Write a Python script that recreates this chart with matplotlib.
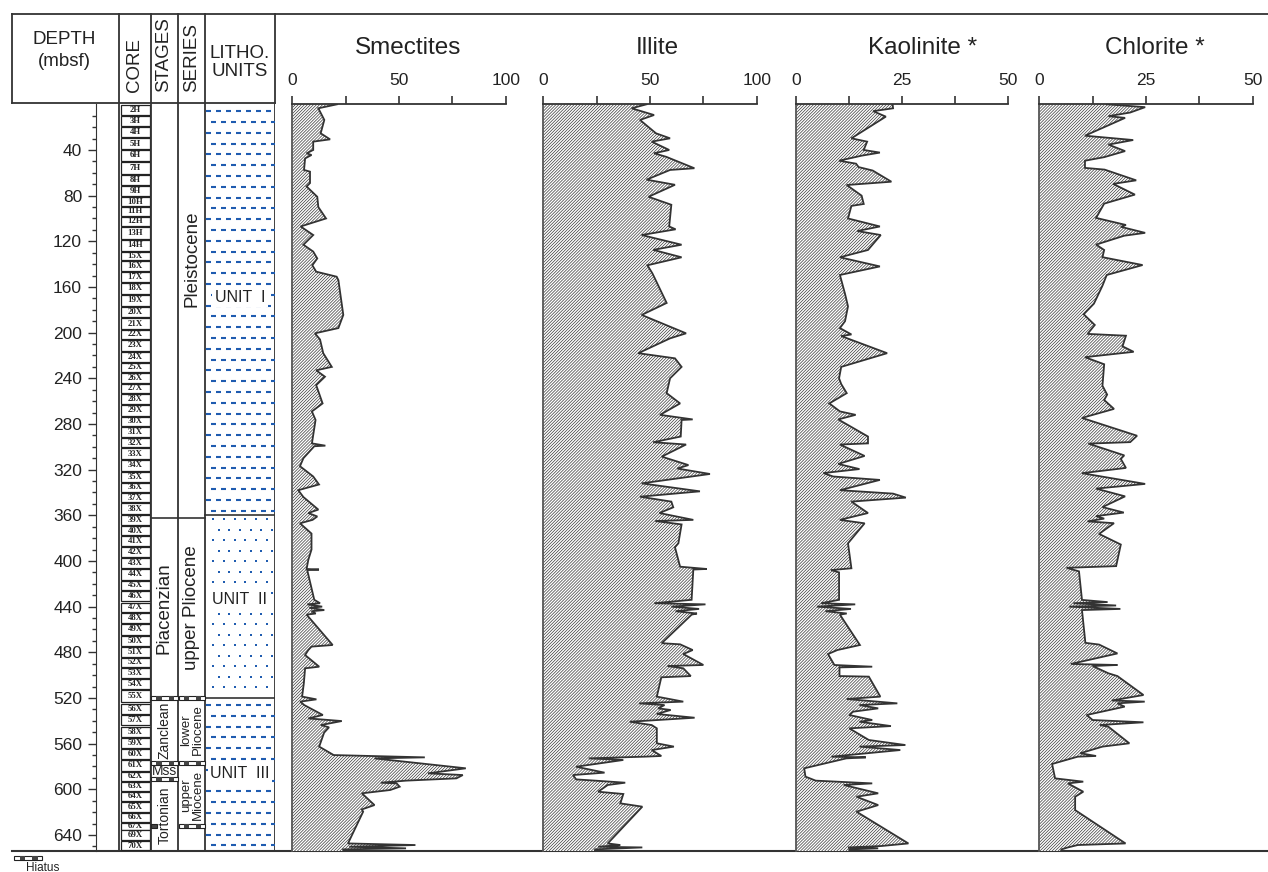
import numpy as np
import matplotlib
matplotlib.use('Agg')
import matplotlib.pyplot as plt
from matplotlib.patches import Rectangle
from matplotlib.ticker import FormatStrFormatter

# ---------------- data ----------------
smec_d = [0, 3.5, 13.7, 25.4, 30.7, 32.7, 40, 42.9, 44.4, 47.4, 57.5, 59, 69, 72, 81, 90, 100, 107, 114.5, 123,
          129, 135, 141, 146.6, 151, 154, 184.5, 196, 200.6, 206, 218, 230, 233, 238.6, 246, 262, 269, 276.5, 297, 299,
          299.5, 310, 317, 326, 333, 338, 344, 355, 358, 361, 364, 367, 376, 390, 399, 407, 407.5, 408, 434, 437,
          438, 440, 441, 443, 444, 446, 447, 473.6, 475, 478, 482.4, 492.6, 494, 507.2, 518.8, 521.2, 523.2, 526.2,
          534.9, 537.9, 540.2, 543.7, 545.7, 550.4, 562.6, 570, 572, 572.9, 581.6, 586, 587.5, 590.4, 592.4, 594.2,
          594.8, 597.7, 600.6, 603.5, 613.8, 617.6, 619.6, 647.4, 648.8, 650.3, 651.7, 652.6, 655]
smec_v = [21, 12.2, 15, 13.3, 17.7, 9.8, 9.8, 6.7, 9, 6, 5.5, 8.3, 8.3, 6.7, 11.7, 12.2, 15.8, 3.9, 9.8, 5.2,
          9.8, 11.7, 9.4, 11.2, 20.8, 21.6, 23.9, 21.6, 10.6, 13, 14.5, 18.5, 11.2, 15.3, 11.2, 14.2, 9.2, 10.9, 9.2, 15.5,
          10.3, 5.2, 3.6, 9.8, 12.5, 2.8, 5.2, 12.2, 7.5, 11.7, 9.5, 3.6, 9, 9, 7.5, 6.7, 12.5, 7, 10.3, 13,
          7, 14, 8, 15, 9, 11, 6.7, 18.9, 9, 7.5, 6, 12.6, 6, 5.4, 4.6, 11.3, 3.7, 5.6,
          14.3, 7.5, 23.2, 13.4, 17.2, 14.9, 12.6, 19.4, 62.1, 38.5, 81.3, 63.6, 79.9, 76.9, 53.3, 41.5,
          48.9, 50.3, 45.9, 32.6, 38.5, 32.6, 33.2, 26.1, 57.7, 26.7, 53.3, 23.8, 24]

illi_d = [0, 3.5, 9.4, 13.7, 25.4, 29.8, 32.7, 40, 42.9, 46, 56, 57.5, 66, 70.5, 81, 88, 107, 109.5, 114.5, 123,
          127.5, 134, 141, 148, 174, 184.5, 200.6, 205, 218, 222.5, 230, 240, 253, 262, 272, 276, 276.5, 291, 296, 298,
          308.6, 316, 319, 323.8, 332, 339, 343.7, 348, 353, 358, 364, 365, 368, 384.5, 388, 405, 407, 407.5, 434, 437,
          438, 440, 442, 444, 446, 447, 472, 473, 478, 481.5, 491.1, 492, 494, 500.8, 501.9, 518.8, 523.2, 524.7,
          526.2, 529.1, 530.5, 534, 537.3, 540.8, 543.7, 546.6, 559.7, 562.6, 565.6, 570.8, 571.4, 572.9, 574.3, 580.2,
          585.4, 587.5, 591.3, 592.4, 594.2, 596.2, 602.1, 604.1, 612.3, 615.2, 647.4, 648.8, 650.3, 650.9, 652.6, 655]
illi_v = [48.4, 41.4, 51.9, 45.3, 52.8, 59.4, 50.8, 59, 51.9, 57.6, 70.8, 59.4, 48.4, 61.7, 49.3, 60, 59, 62, 46.1, 64.8,
          51.5, 64.8, 48.8, 51.1, 57.8, 46.1, 66.9, 59.4, 44.5, 61.7, 64.8, 59.4, 57.8, 64.1, 54.7, 70, 64.8, 64.4, 51.5, 66.9,
          55.5, 68, 62.8, 78.1, 46.1, 73.4, 45.3, 60, 60.9, 54.4, 70.3, 52.5, 64.8, 63.3, 61.7, 64.1, 76.6, 70.3, 69.5, 52,
          76, 60, 73, 62, 72, 69.5, 55.5, 64.1, 70, 65.6, 75, 58.2, 65.6, 69.1, 55.3, 53.2, 65.6, 44.9,
          56.8, 53.8, 59.7, 53.2, 70.9, 40.5, 50.8, 53.2, 53.2, 61.2, 50.8, 55.3, 47.3, 21.3, 37.5, 15.4,
          28.7, 13.9, 15.4, 24.3, 38.4, 30.2, 25.7, 37.5, 36.1, 46.4, 30.2, 36.1, 25.7, 46.4, 24.3, 24]

kaol_d = [0, 3.5, 6, 10.8, 29.8, 32.7, 40, 42.3, 45, 49.4, 52, 55, 58, 67.8, 70.7, 80, 87.3, 89, 100, 107,
          111, 114.5, 127.6, 134, 142, 149.5, 166, 177, 190, 196, 201.6, 203, 218, 230, 240, 245, 253, 262, 269, 272,
          276, 291, 297, 298, 308, 315, 319.5, 323, 326, 329, 338, 341, 344.5, 348, 358, 364, 367, 384.5, 406.4, 408,
          410, 434, 437, 438, 440, 442, 444, 446, 447, 473.6, 478, 481.5, 491.1, 492.6, 493.2, 500.8, 501.3, 518.8,
          520.9, 524.7, 526.2, 529.1, 532, 534.9, 539.3, 540.8, 544.6, 546.6, 556.8, 561.2, 562.6, 565.6, 571.4, 572,
          572.9, 581.6, 588.9, 592.4, 594.8, 596.2, 603.5, 606.5, 613.8, 619.6, 647.4, 649.7, 650.9, 651.7, 652.6, 655]
kaol_v = [22.8, 22.9, 18.2, 21.2, 13.1, 16.8, 16, 19.8, 15.5, 10.2, 14.2, 14.8, 18.1, 22.5, 12, 15.5, 16, 13.1, 12.3, 19.8,
          14.5, 20, 17, 10.4, 19.8, 10.4, 11.6, 12.3, 11.6, 10.4, 13.1, 10.7, 21.5, 10.7, 10.2, 10.7, 12, 7.9, 10.4, 14.1,
          10, 17, 17, 10.4, 16.2, 10, 15, 6.5, 8.8, 19.8, 10.4, 22.9, 25.9, 13.1, 17, 10.4, 16.2, 12.3, 13.1, 8.3,
          10.2, 10.2, 6, 14, 5, 13, 7, 12, 10.4, 15.1, 9.8, 7.6, 9.1, 18, 10.3, 10.3, 17.2, 19.9,
          12, 23.9, 15, 19.4, 13.5, 12.6, 18, 15, 22.4, 12.6, 17.2, 25.8, 15, 24.6, 8.4, 16.5,
          11.9, 2, 2.3, 4.7, 18, 11.3, 19.4, 14.3, 19.4, 14.3, 26.5, 20, 12.3, 19.4, 12.6, 12.6]

chlo_d = [0, 2.5, 7.2, 10.4, 11.9, 27.5, 31.3, 35.3, 41, 46.3, 49.4, 55.7, 57.2, 66.6, 69.7, 79.1, 87, 99.5, 105.7, 107.3,
          112.6, 115.1, 122.9, 127.6, 133.9, 140.8, 149.5, 158.9, 174.6, 183.9, 193.3, 201.1, 202.7, 212, 216.8, 221.5, 227.7, 246.5, 254.3, 259,
          266.8, 274.7, 290.3, 295.9, 297.2, 307.5, 310.6, 318.5, 323.1, 332.5, 336.6, 343.4, 352.8, 357.6, 360.7, 362.9, 365.3, 366.9, 376.3, 385.6,
          404.5, 406, 409.1, 434.1, 436, 437, 439, 440, 442, 443, 471.7, 473.2, 481, 490.2, 491.1, 492, 498.4, 500.8, 517.4, 522.2,
          523.2, 524.7, 527.6, 534.9, 539.3, 541.3, 543.7, 545.2, 559.7, 562.6, 568.4, 570.8, 571.4, 577.8, 590.4, 593.3,
          594.8, 602.1, 606.5, 618.2, 647.4, 648.8, 650.9, 652.6, 655]
chlo_v = [15.8, 24.8, 21.3, 16.2, 20.1, 10.7, 22, 16.2, 20.1, 15.2, 10.7, 10.7, 15.3, 22.7, 17.3, 22.4, 15.2, 13.3, 20.3, 19.1,
          24.8, 19.9, 13.3, 15.2, 14.8, 24.2, 15.8, 14.8, 12.8, 10.4, 13, 11.3, 20.3, 19.5, 22.1, 10.7, 15.2, 14.8, 15.9, 15.2,
          17.5, 10, 22.9, 21.3, 11.5, 19.9, 19.1, 20.3, 10, 24.8, 13.3, 20.1, 14.8, 19.8, 13.3, 15.2, 11.3, 17.5, 14, 19.1,
          18, 6.4, 9.3, 10, 16, 8, 18, 7, 19, 10, 10.8, 14, 18.3, 7.4, 18.3, 12.5, 16.2, 18.3, 24.4, 17,
          24.7, 18.3, 20, 11.1, 12.5, 24.4, 14.2, 16.2, 21.1, 14.8, 9.6, 13.3, 9, 3, 3.7, 10.3,
          6.7, 10.3, 8.4, 8.4, 20.2, 9, 6.7, 5.2, 5]

depth_ticks = [40, 80, 120, 160, 200, 240, 280, 320, 360, 400, 440, 480, 520, 560, 600, 640]

core_names = ['2H', '3H', '4H', '5H', '6H', '7H', '8H', '9H', '10H', '11H', '12H', '13H', '14H', '15X', '16X',
              '17X', '18X', '19X', '20X', '21X', '22X', '23X', '24X', '25X', '26X', '27X', '28X', '29X', '30X',
              '31X', '32X', '33X', '34X', '35X', '36X', '37X', '38X', '39X', '40X', '41X', '42X', '43X', '44X',
              '45X', '46X', '47X', '48X', '49X', '50X', '51X', '52X', '53X', '54X', '55X', '56X', '57X', '58X',
              '59X', '60X', '61X', '62X', '63X', '64X', '65X', '66X', '67X', '69X', '70X']
core_tops = [0.6, 10.2, 20.1, 29.8, 40, 50.3, 62, 71.6, 81.5, 90.2, 98.4, 107.2, 118.9, 129.1, 137,
             146.6, 156.3, 167, 177.3, 187.4, 197.7, 206.4, 216.7, 226.3, 235.3, 245, 253.7, 263.4, 273.6,
             283, 292.6, 301.3, 311.6, 321.8, 331.4, 340.7, 349.5, 359.7, 369.4, 378.1, 388, 397.7, 407.3,
             417.3, 426, 436.5, 445.3, 455.2, 465.7, 475, 484.7, 494, 503.8, 513.4, 525, 534.6, 545,
             555, 564.7, 574.3, 584.8, 593.6, 602, 611.5, 620.5, 629.3, 636, 645.5]

stage_bounds = [362, 520, 577, 591, 655]
stage_names = ['', 'Piacenzian', 'Zanclean', 'Mss', 'Tortonian']
series_bounds = [362, 520, 577, 655]
series_names = ['Pleistocene', 'upper Pliocene', 'lower\nPliocene', 'upper\nMiocene']
series_label_depth = [135, 441, 548, 605]
unit_tops = [0, 360, 520]
unit_bottoms = [360, 520, 655]
unit_names = ['UNIT  I', 'UNIT  II', 'UNIT  III']
unit_label_depth = [169, 434, 586]
hiatus_stage = [520, 577, 591]
hiatus_series = [520, 577, 632]
hiatus_small = [632]

# ---------------- figure ----------------
plt.rcParams['font.family'] = ['Liberation Sans', 'DejaVu Sans']
plt.rcParams['hatch.linewidth'] = 0.5

W, H = 1268, 872
TOP, BOT = 104.3, 851.0
DMAX = (BOT - TOP) / 1.1417
fig = plt.figure(figsize=(W / 100, H / 100), dpi=100)

def fax(x0, x1, y0=TOP, y1=BOT, **kw):
    return fig.add_axes([x0 / W, 1 - y1 / H, (x1 - x0) / W, (y1 - y0) / H], **kw)

LC = '#333333'
BLUE = '#1f5cb0'

# header / frame axes in pixel coords
hax = fig.add_axes([0, 0, 1, 1])
hax.set_xlim(0, W); hax.set_ylim(H, 0); hax.axis('off')
hax.plot([12, W], [14, 14], color=LC, lw=1.3)
hax.plot([12, W], [BOT, BOT], color=LC, lw=1.5, zorder=10)
hax.plot([12, 275], [103, 103], color=LC, lw=1.3)
for x in [12, 119.3, 150.5, 178.3, 205, 275]:
    hax.plot([x, x], [14, 103], color=LC, lw=1.3)
hax.text(64, 40, 'DEPTH', ha='center', va='center', fontsize=13.5, color='#222')
hax.text(64, 62, '(mbsf)', ha='center', va='center', fontsize=13.5, color='#222')
hax.text(135, 92, 'CORE', rotation=90, ha='center', va='bottom', fontsize=13.5, color='#222')
hax.text(164, 92, 'STAGES', rotation=90, ha='center', va='bottom', fontsize=13.5, color='#222')
hax.text(191.5, 92, 'SERIES', rotation=90, ha='center', va='bottom', fontsize=13.5, color='#222')
hax.text(240, 53, 'LITHO.', ha='center', va='center', fontsize=13.5, color='#222')
hax.text(240, 71, 'UNITS', ha='center', va='center', fontsize=13.5, color='#222')

# depth axis
axd = fax(96, 97)
axd.set_ylim(DMAX, 0)
axd.set_xticks([])
axd.set_yticks(depth_ticks)
axd.set_yticks(np.arange(10, DMAX, 10), minor=True)
for s in ['top', 'right', 'bottom']:
    axd.spines[s].set_visible(False)
axd.spines['left'].set_color(LC)
axd.tick_params(axis='y', which='major', length=6, width=1, labelsize=12.5, pad=4, colors=LC, labelcolor='#222')
axd.tick_params(axis='y', which='minor', length=3, width=1, colors=LC)
axd.patch.set_alpha(0)

# left columns axes
axl = fax(12, 275)
axl.set_xlim(12, 275); axl.set_ylim(DMAX, 0); axl.axis('off')
for x in [119.3, 150.5, 178.3, 205, 275]:
    axl.plot([x, x], [0, DMAX], color=LC, lw=1.3)

# cores
for i, (nm, top) in enumerate(zip(core_names, core_tops)):
    nxt = core_tops[i + 1] if i + 1 < len(core_tops) else DMAX
    h = (nxt - top) * 0.9
    axl.add_patch(Rectangle((121, top), 28.5, h, facecolor='white', edgecolor='#222', lw=0.9))
    axl.text(135, top + h / 2, nm, ha='center', va='center', fontsize=6.3, fontweight='bold',
             family='Liberation Serif', color='#222')

# stage / series boundaries
for b in stage_bounds[:-1]:
    axl.plot([150.5, 178.3], [b, b], color=LC, lw=1.2)
for b in series_bounds[:-1]:
    axl.plot([178.3, 205], [b, b], color=LC, lw=1.2)
st_tops = [0] + stage_bounds[:-1]
for nm, t, b in zip(stage_names, st_tops, stage_bounds):
    if not nm:
        continue
    c = (t + b) / 2
    if nm == 'Mss':
        axl.text(164.4, c, nm, ha='center', va='center', fontsize=10, color='#222')
    elif nm == 'Piacenzian':
        axl.text(164.4, c, nm, rotation=90, ha='center', va='center', fontsize=13.5, color='#222')
    else:
        axl.text(164.4, c, nm, rotation=90, ha='center', va='center', fontsize=10, color='#222')
for nm, c in zip(series_names, series_label_depth):
    fs = 13.5 if '\n' not in nm else 9.5
    axl.text(191.6, c, nm, rotation=90, ha='center', va='center', fontsize=fs, color='#222',
             linespacing=0.95, multialignment='center')

# hiatus symbols
def hiatus(ax, x0, x1, d, hh=3.0):
    ax.add_patch(Rectangle((x0, d - hh / 2), x1 - x0, hh, facecolor='white', edgecolor='#222', lw=0.8, zorder=4))
    ax.add_patch(Rectangle((x0 + 0.2 * (x1 - x0), d - hh / 2), 0.2 * (x1 - x0), hh, facecolor='#444', lw=0, zorder=5))
    ax.add_patch(Rectangle((x0 + 0.65 * (x1 - x0), d - hh / 2), 0.2 * (x1 - x0), hh, facecolor='#444', lw=0, zorder=5))
for d in hiatus_stage:
    hiatus(axl, 151, 178, d)
for d in hiatus_series:
    hiatus(axl, 179, 204.5, d)
for d in hiatus_small:
    axl.add_patch(Rectangle((151, d - 1.5), 6, 3.0, facecolor='#444', edgecolor='#222', lw=0.8, zorder=5))

# litho units
dpx = 1.1417  # px per m
for nm, t, b, ld in zip(unit_names, unit_tops, unit_bottoms, unit_label_depth):
    if t > 0:
        axl.plot([205, 275], [t, t], color=LC, lw=1.2)
    if nm == 'UNIT  II':
        rows = np.arange(t + 4 / dpx, b - 2, 10.5 / dpx)
        for k, r in enumerate(rows):
            xs = np.arange(213.3 + (5.3 if k % 2 else 0), 274, 10.7)
            axl.scatter(xs, np.full_like(xs, r), s=4.5, color=BLUE, lw=0, marker='s')
    else:
        rows = np.arange(t + 7 / dpx, b - 2, 10.8 / dpx)
        for k, r in enumerate(rows):
            axl.plot([206, 274.5], [r, r], color=BLUE, lw=1.5,
                     linestyle=(2.4 * (k % 2), (2.4, 2.4)), dash_capstyle='butt')
    axl.text(240, ld, nm, ha='center', va='center', fontsize=11.5, color='#222',
             bbox=dict(facecolor='white', edgecolor='none', pad=2), zorder=6)

# mineral panels
panels = [
    ('Smectites', smec_d, smec_v, 292.3, 505.7, 100, 408),
    ('Illite', illi_d, illi_v, 543.3, 756.7, 100, 657),
    ('Kaolinite *', kaol_d, kaol_v, 795.7, 1008.3, 50, 923),
    ('Chlorite *', chlo_d, chlo_v, 1039.3, 1252.7, 50, 1155),
]
for title, d, v, x0, x1, vmax, tx in panels:
    ax = fax(x0, x1)
    ax.fill_betweenx(d, 0, v, facecolor='white', edgecolor='#3a3a3a', hatch='/' * 11, linewidth=0)
    ax.plot(v, d, color=LC, lw=1.3, solid_joinstyle='miter')
    ax.set_xlim(0, vmax); ax.set_ylim(DMAX, 0)
    ax.xaxis.tick_top()
    ax.set_xticks([0, vmax / 2, vmax])
    ax.set_xticks([vmax / 4, 3 * vmax / 4], minor=True)
    ax.xaxis.set_major_formatter(FormatStrFormatter('%d'))
    ax.tick_params(axis='x', which='both', direction='out', length=6, width=1.2, labelsize=12.5,
                   pad=6, colors=LC, labelcolor='#222')
    ax.set_yticks([])
    for s in ['right', 'bottom']:
        ax.spines[s].set_visible(False)
    ax.spines['top'].set_linewidth(1.3); ax.spines['top'].set_color(LC)
    ax.spines['left'].set_linewidth(1.3); ax.spines['left'].set_color('#555')
    ax.patch.set_alpha(0)
    hax.text(tx, 48, title, ha='center', va='center', fontsize=17.5, color='#222')

# legend
hiatus(hax, 14, 42, 858, hh=3.5)
hax.text(26, 868, 'Hiatus', ha='left', va='center', fontsize=8.5, color='#222')

fig.savefig('out.png', dpi=100)
